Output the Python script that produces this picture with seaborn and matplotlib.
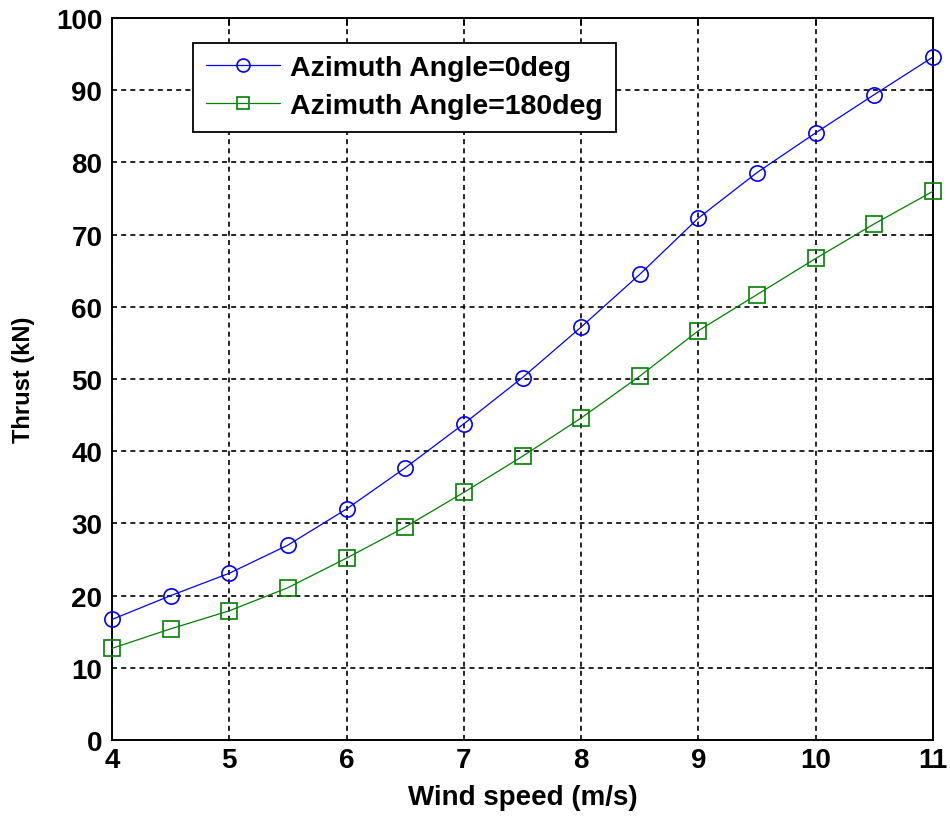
import matplotlib
matplotlib.use("Agg")
import matplotlib.pyplot as plt
import seaborn as sns
import pandas as pd

wind_speed = [4, 4.5, 5, 5.5, 6, 6.5, 7, 7.5, 8, 8.5, 9, 9.5, 10, 10.5, 11]
thrust_0deg = [16.7, 20.0, 23.1, 27.0, 32.0, 37.7, 43.8, 50.2, 57.2, 64.5, 72.3, 78.6, 84.1, 89.4, 94.6]
thrust_180deg = [12.7, 15.4, 17.9, 21.1, 25.2, 29.5, 34.3, 39.3, 44.6, 50.4, 56.7, 61.7, 66.7, 71.5, 76.0]
series_labels = ["Azimuth Angle=0deg", "Azimuth Angle=180deg"]
x_ticks = [4, 5, 6, 7, 8, 9, 10, 11]
y_ticks = [0, 10, 20, 30, 40, 50, 60, 70, 80, 90, 100]

sns.set_style("white")
plt.rcParams['font.family'] = ['Liberation Sans', 'DejaVu Sans']
plt.rcParams['font.weight'] = 'bold'
plt.rcParams['text.color'] = 'black'
plt.rcParams['axes.labelcolor'] = 'black'
plt.rcParams['xtick.color'] = 'black'
plt.rcParams['ytick.color'] = 'black'

df0 = pd.DataFrame({"Wind speed": wind_speed, "Thrust": thrust_0deg})
df1 = pd.DataFrame({"Wind speed": wind_speed, "Thrust": thrust_180deg})

fig = plt.figure(figsize=(9.5, 8.2), dpi=100)
ax = fig.add_axes([0.1179, 0.0963, 0.8642, 0.8805])

sns.lineplot(data=df0, x="Wind speed", y="Thrust", ax=ax, color="#0000ff",
             marker="o", markersize=11, markerfacecolor="none",
             markeredgecolor="#0000ff", markeredgewidth=1.2, linewidth=0.9,
             label=series_labels[0], clip_on=False, zorder=5)
sns.lineplot(data=df1, x="Wind speed", y="Thrust", ax=ax, color="#008000",
             marker="s", markersize=11, markerfacecolor="none",
             markeredgecolor="#008000", markeredgewidth=1.2, linewidth=0.9,
             label=series_labels[1], clip_on=False, zorder=5)

ax.set_xlim(4, 11)
ax.set_ylim(0, 100)
ax.set_xticks(x_ticks)
ax.set_yticks(y_ticks)
ax.grid(True, color="black", linestyle=(0, (3, 2.5)), linewidth=1.2)
for s in ax.spines.values():
    s.set_color("black")
    s.set_linewidth(1.4)
ax.tick_params(direction="in", length=6, width=1.2, top=True, right=True,
               labelsize=20, colors="black")
ax.tick_params(axis="y", pad=7)
ax.tick_params(axis="x", pad=5)
for lab in ax.get_xticklabels() + ax.get_yticklabels():
    lab.set_fontweight("bold")
ax.set_xlabel("Wind speed (m/s)", fontsize=20, fontweight="bold", labelpad=8,
              color="black")
ax.set_ylabel("Thrust (kN)", fontsize=17, fontweight="bold", labelpad=15,
              color="black")

leg = ax.legend(loc="upper left", bbox_to_anchor=(0.099, 0.966),
                frameon=True, fancybox=False, edgecolor="black",
                handlelength=2.6, handletextpad=0.35, borderpad=0.45,
                labelspacing=0.4, markerscale=0.85, borderaxespad=0,
                prop={"weight": "bold", "size": 20.5})
leg.get_frame().set_linewidth(1.3)
leg.get_frame().set_alpha(1)
for t in leg.get_texts():
    t.set_color("black")

fig.savefig("out.png", dpi=100, facecolor="white")
